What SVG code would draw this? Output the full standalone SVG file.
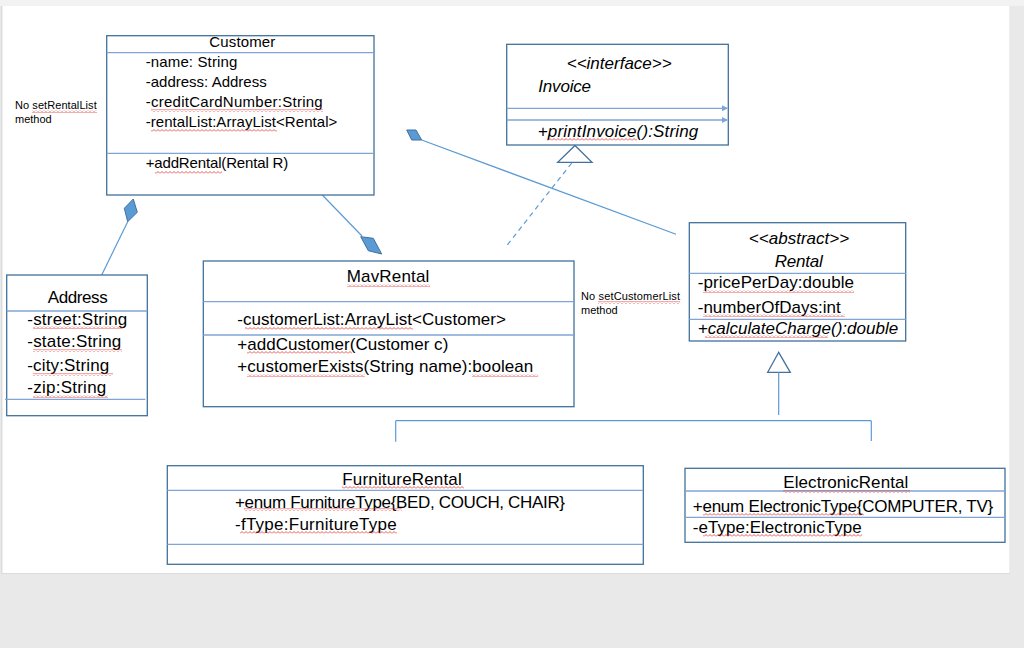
<svg xmlns="http://www.w3.org/2000/svg" width="1024" height="648" viewBox="0 0 1024 648">
<defs>
<style>
.box{fill:#fff;stroke:#41719C;stroke-width:1.3}
.div{stroke:#7FA5D6;stroke-width:1.3;fill:none}
.t{font-family:"Liberation Sans",Arial,sans-serif;fill:#000}
.i{font-style:italic}
.c{text-anchor:middle}
.f15{font-size:15px}
.f17{font-size:17px}
.f11{font-size:11px}
.ln{stroke:#5B9BD5;stroke-width:1.2;fill:none}
.dia{fill:#5B9BD5;stroke:#41719C;stroke-width:1}
.tri{fill:#fff;stroke:#41719C;stroke-width:1.3}
.sq{fill:url(#squig)}
</style>
<pattern id="squig" patternUnits="userSpaceOnUse" x="0" y="0" width="4" height="3">
<polyline points="0,2.5 2,0.5 4,2.5" fill="none" stroke="#E0302A" stroke-width="0.8"/>
</pattern>
<marker id="ah" markerWidth="6" markerHeight="6" refX="5" refY="3" orient="auto" markerUnits="userSpaceOnUse">
<path d="M0,0 L6,3 L0,6 Z" fill="#7FA5D6"/>
</marker>
</defs>

<rect x="0" y="0" width="1024" height="648" fill="#e9e9e9"/>
<rect x="0" y="0" width="1024" height="6" fill="#f2f2f2"/>
<rect x="1" y="6" width="1009" height="568" fill="#dcdcdc"/>
<rect x="2.5" y="6" width="1007" height="567" fill="#ffffff"/>

<g id="connectors">
<line class="ln" x1="127.7" y1="221.7" x2="101.7" y2="275"/>
<polygon class="dia" points="133.3,199 137.3,212.3 127.7,221.7 124.3,208.3"/>
<line class="ln" x1="322.3" y1="195" x2="362" y2="236"/>
<polygon class="dia" points="360.7,236.7 373.3,238.3 381.7,254 368.3,250.7"/>
<line class="ln" x1="421.7" y1="140" x2="676" y2="234.3"/>
<polygon class="dia" points="406.7,130 416,130 421.7,140 411.7,140"/>
<line class="ln" x1="571.7" y1="163" x2="506.7" y2="245.7" stroke-dasharray="5,4"/>
<polygon class="tri" points="575,145.5 592,162.3 557.7,162.3"/>
<polygon class="tri" points="778.7,352.3 790.3,372.3 767.7,372.3"/>
<line class="ln" x1="778.7" y1="372.3" x2="778.7" y2="415"/>
<line class="ln" x1="395.7" y1="420.7" x2="871.3" y2="420.7"/>
<line class="ln" x1="395.7" y1="420.7" x2="395.7" y2="441.7"/>
<line class="ln" x1="871.3" y1="420.7" x2="871.3" y2="441"/>
</g>

<g id="note-rental">
<text class="t f11" x="15" y="109" textLength="81.7">No setRentalList</text>
<text class="t f11" x="15" y="123">method</text>
<rect class="sq" x="32" y="110" width="65" height="3"/>
</g>

<g id="customer">
<rect class="box" x="106.7" y="35.7" width="267.3" height="159.3"/>
<line class="div" x1="106.7" y1="52.7" x2="374" y2="52.7"/>
<line class="div" x1="106.7" y1="153.3" x2="374" y2="153.3"/>
<text class="t f15 c" x="242.3" y="46.7" textLength="66">Customer</text>
<text class="t f15" x="145.7" y="67" textLength="91.6">-name: String</text>
<text class="t f15" x="145.7" y="87" textLength="121">-address: Address</text>
<text class="t f15" x="145.7" y="107" textLength="177">-creditCardNumber:String</text>
<text class="t f15" x="145.7" y="127" textLength="191.6">-rentalList:ArrayList&lt;Rental&gt;</text>
<text class="t f15" x="145.7" y="168" textLength="142.6">+addRental(Rental R)</text>
<rect class="sq" x="151" y="109" width="172" height="3"/>
<rect class="sq" x="151" y="129" width="126" height="3"/>
<rect class="sq" x="155" y="171" width="67" height="3"/>
</g>

<g id="invoice">
<rect class="box" x="506.7" y="44.3" width="221.6" height="100.7"/>
<line class="div" x1="506.7" y1="108.3" x2="727" y2="108.3" marker-end="url(#ah)"/>
<line class="div" x1="506.7" y1="120" x2="727" y2="120" marker-end="url(#ah)"/>
<text class="t f17 i c" x="619.2" y="69.3" textLength="105">&lt;&lt;interface&gt;&gt;</text>
<text class="t f17 i" x="538.3" y="91.7" textLength="52.7">Invoice</text>
<text class="t f17 i" x="537.7" y="136.7" textLength="160.6">+printInvoice():String</text>
<rect class="sq" x="547" y="138" width="90" height="3"/>
</g>

<g id="address">
<rect class="box" x="6.7" y="275" width="140.6" height="140.7"/>
<line class="div" x1="6.7" y1="311" x2="147.3" y2="311"/>
<line class="div" x1="5" y1="399.3" x2="145.3" y2="399.3"/>
<text class="t f17 c" x="77.7" y="303" textLength="60">Address</text>
<text class="t f17" x="27.3" y="325" textLength="100">-street:String</text>
<text class="t f17" x="27.3" y="347" textLength="94">-state:String</text>
<text class="t f17" x="27.3" y="371" textLength="82">-city:String</text>
<text class="t f17" x="27.3" y="393" textLength="79">-zip:String</text>
<rect class="sq" x="33" y="326" width="90" height="3"/>
<rect class="sq" x="33" y="349" width="89" height="3"/>
<rect class="sq" x="33" y="373" width="80" height="3"/>
<rect class="sq" x="33" y="395" width="75" height="3"/>
</g>

<g id="mavrental">
<rect class="box" x="203.3" y="261" width="370.7" height="145.7"/>
<line class="div" x1="203.3" y1="301.7" x2="574" y2="301.7"/>
<line class="div" x1="203.3" y1="335" x2="574" y2="335"/>
<text class="t f17 c" x="388" y="281.7" textLength="82.6">MavRental</text>
<text class="t f17" x="237.3" y="325" textLength="268.7">-customerList:ArrayList&lt;Customer&gt;</text>
<text class="t f17" x="237.3" y="350" textLength="211">+addCustomer(Customer c)</text>
<text class="t f17" x="237.3" y="372" textLength="296">+customerExists(String name):boolean</text>
<rect class="sq" x="347" y="284" width="83" height="3"/>
<rect class="sq" x="245" y="327" width="168" height="3"/>
<rect class="sq" x="247" y="351" width="105" height="3"/>
<rect class="sq" x="247" y="374" width="118" height="3"/>
<rect class="sq" x="472" y="374" width="66" height="3"/>
</g>

<g id="note-customer">
<text class="t f11" x="581" y="300" textLength="99">No setCustomerList</text>
<text class="t f11" x="581" y="314">method</text>
<rect class="sq" x="598" y="301" width="82" height="3"/>
</g>

<g id="rental">
<rect class="box" x="689.3" y="222.7" width="216.4" height="118.3"/>
<line class="div" x1="689.3" y1="273.3" x2="905.7" y2="273.3"/>
<line class="div" x1="689.3" y1="319.3" x2="905.7" y2="319.3"/>
<text class="t f17 i c" x="799" y="244" textLength="100.3">&lt;&lt;abstract&gt;&gt;</text>
<text class="t f17 i c" x="798.7" y="266.7" textLength="48">Rental</text>
<text class="t f17" x="697.7" y="288" textLength="156.3">-pricePerDay:double</text>
<text class="t f17" x="697.7" y="312.7" textLength="143">-numberOfDays:int</text>
<text class="t f17 i" x="697.7" y="334" textLength="200.6">+calculateCharge():double</text>
<rect class="sq" x="703" y="290" width="151" height="3"/>
<rect class="sq" x="703" y="314" width="142" height="3"/>
<rect class="sq" x="705" y="335" width="123" height="3"/>
</g>

<g id="furniturerental">
<rect class="box" x="167.3" y="465.7" width="476" height="98.6"/>
<line class="div" x1="167.3" y1="490.3" x2="643.3" y2="490.3"/>
<line class="div" x1="167.3" y1="544.3" x2="643.3" y2="544.3"/>
<text class="t f17 c" x="402" y="485" textLength="119.4">FurnitureRental</text>
<text class="t f17" x="235" y="508.3" textLength="330">+enum FurnitureType{BED, COUCH, CHAIR}</text>
<text class="t f17" x="235" y="530" textLength="161.7">-fType:FurnitureType</text>
<rect class="sq" x="342" y="486" width="122" height="3"/>
<rect class="sq" x="244" y="508" width="158" height="3"/>
<rect class="sq" x="240" y="531" width="157" height="3"/>
</g>

<g id="electronicrental">
<rect class="box" x="685" y="468.3" width="320" height="74"/>
<line class="div" x1="685" y1="491" x2="1005" y2="491"/>
<line class="div" x1="685" y1="517.3" x2="1005" y2="517.3"/>
<text class="t f17 c" x="845.8" y="488.3" textLength="125">ElectronicRental</text>
<text class="t f17" x="692.7" y="511.7" textLength="300.6">+enum ElectronicType{COMPUTER, TV}</text>
<text class="t f17" x="692.7" y="532.7" textLength="169">-eType:ElectronicType</text>
<rect class="sq" x="783" y="490" width="127" height="3"/>
<rect class="sq" x="703" y="513" width="161" height="3"/>
<rect class="sq" x="703" y="534" width="159" height="3"/>
</g>
</svg>
